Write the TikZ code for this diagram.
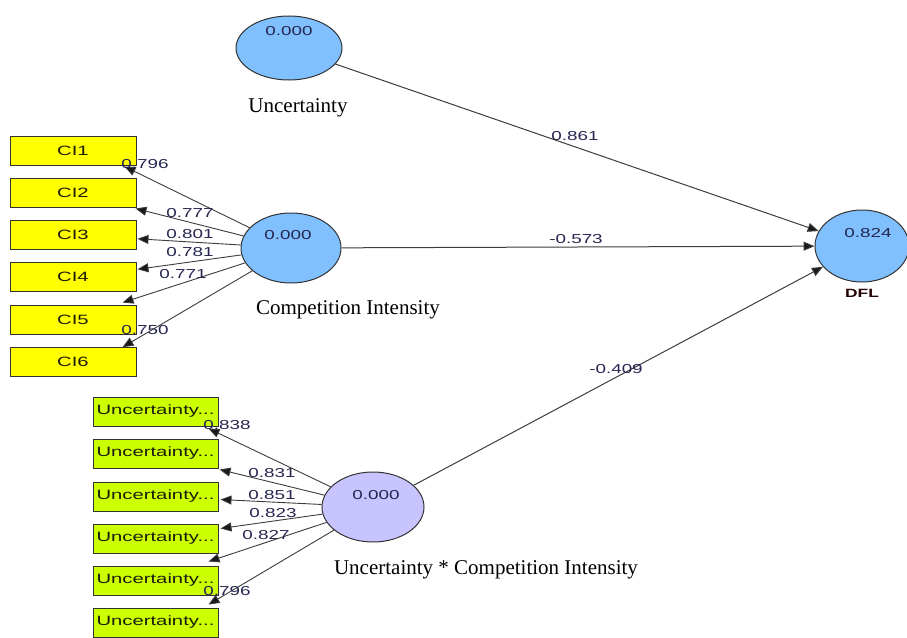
\documentclass[tikz,border=0pt]{standalone}
\usepackage{fontspec}
\setmainfont{Liberation Serif}
\newfontfamily\plsfont[FakeStretch=1.45]{Liberation Sans}
\newfontfamily\plswide[FakeStretch=1.5]{Liberation Sans}
\usetikzlibrary{shapes.geometric,arrows.meta,calc}

\definecolor{latblue}{HTML}{80C0FF}
\definecolor{latlav}{HTML}{C8C4FF}
\definecolor{indyellow}{HTML}{FFFF00}
\definecolor{indlime}{HTML}{CCFF00}
\definecolor{edgegray}{HTML}{333333}
\definecolor{linegray}{HTML}{3C3C3C}
\definecolor{numblue}{HTML}{262650}
\definecolor{txtdark}{HTML}{1C1C08}

\tikzset{
  latent/.style={ellipse, draw=edgegray, line width=1pt, inner sep=0pt},
  indbox/.style={rectangle, draw=edgegray, line width=1pt, minimum height=29pt,
    inner sep=0pt, font=\plswide\fontsize{13.5}{13.5}\selectfont, text=txtdark},
  val/.style={font=\plsfont\fontsize{13}{13}\selectfont, text=numblue, inner sep=0pt},
  capt/.style={font=\fontsize{21}{21}\selectfont, text=black, inner sep=0pt},
  structpath/.style={draw=linegray, line width=1pt,
    -{Triangle[length=11pt,width=9pt,fill=black!90]}},
  loadpath/.style={draw=linegray, line width=0.9pt,
    -{Triangle[length=11pt,width=9pt,fill=black!90]}},
}

\begin{document}
\begin{tikzpicture}[x=1pt,y=-1pt]
\useasboundingbox (0,0) rectangle (907,637);

% latent variables
\node[latent, fill=latblue, minimum width=106pt, minimum height=64pt] (ue) at (289,48) {};
\node[latent, fill=latblue, minimum width=100pt, minimum height=70pt] (ci) at (291,248) {};
\node[latent, fill=latblue, minimum width=94pt, minimum height=72pt] (dfl) at (862,246) {};
\node[latent, fill=latlav, minimum width=102pt, minimum height=70pt] (ix) at (373,507) {};

% R-square values and names
\node[val] (ueval) at (289,31) {0.000};
\node[capt] (uecap) at (298,108) {Uncertainty};
\node[val] (cival) at (288,235) {0.000};
\node[capt] (cicap) at (348,310) {Competition Intensity};
\node[val] (dflval) at (868,233) {0.824};
\node[val, font=\plsfont\bfseries\fontsize{12}{12}\selectfont, text=black!85!red] (dflcap) at (862,293) {DFL};
\node[val] (ixval) at (376,495) {0.000};
\node[capt] (ixcap) at (486,570) {Uncertainty * Competition Intensity};

% indicators of Competition Intensity
\foreach \i/\y in {1/150.5,2/192.5,3/234.8,4/277.3,5/319.6,6/362.2}
  \node[indbox, fill=indyellow, minimum width=126pt] (ci\i) at (73,\y) {CI\i};

% indicators of the interaction term
\foreach \i/\y in {1/411.5,2/453.5,3/496.5,4/538.5,5/580.5,6/622.5}
  \node[indbox, fill=indlime, minimum width=125pt] (ux\i) at (155.5,\y) {Uncertainty...};

% arrow ends on the indicator boxes
\coordinate (tc1) at ($(ci1.south east)+(-12,1)$);
\coordinate (tc2) at ($(ci2.south east)+(-1,1)$);
\coordinate (tc3) at ($(ci3.east)+(1,4)$);
\coordinate (tc4) at ($(ci4.east)+(1,-8)$);
\coordinate (tc5) at ($(ci5.north east)+(-14,-2)$);
\coordinate (tc6) at ($(ci6.north east)+(-14,0)$);
\coordinate (tu1) at ($(ux1.south east)+(-10,2)$);
\coordinate (tu2) at ($(ux2.south east)+(1,1)$);
\coordinate (tu3) at ($(ux3.east)+(2,3)$);
\coordinate (tu4) at ($(ux4.east)+(2,-10)$);
\coordinate (tu5) at ($(ux5.north east)+(-10,-4)$);
\coordinate (tu6) at ($(ux6.north east)+(-10,-3)$);

% outer loadings
\foreach \i in {1,...,6} {
  \draw[loadpath] (ci) -- (tc\i);
  \draw[loadpath] (ix) -- (tu\i);
}

% path coefficients
\draw[structpath] (ue) -- (dfl);
\draw[structpath] (ci) -- (dfl);
\draw[structpath] (ix) -- (dfl);

% loading values
\node[val] (lc1) at (145,164) {0.796};
\node[val] (lc2) at (190,213) {0.777};
\node[val] (lc3) at (190,234) {0.801};
\node[val] (lc4) at (190,252) {0.781};
\node[val] (lc5) at (183,274) {0.771};
\node[val] (lc6) at (145,330) {0.750};
\node[val] (lu1) at (227,425) {0.838};
\node[val] (lu2) at (272,473) {0.831};
\node[val] (lu3) at (272,495) {0.851};
\node[val] (lu4) at (273,513) {0.823};
\node[val] (lu5) at (266,535) {0.827};
\node[val] (lu6) at (227,591) {0.796};

% coefficient values
\node[val] (p1) at (575,136) {0.861};
\node[val] (p2) at (576,239) {-0.573};
\node[val] (p3) at (616,369) {-0.409};
\end{tikzpicture}
\end{document}
